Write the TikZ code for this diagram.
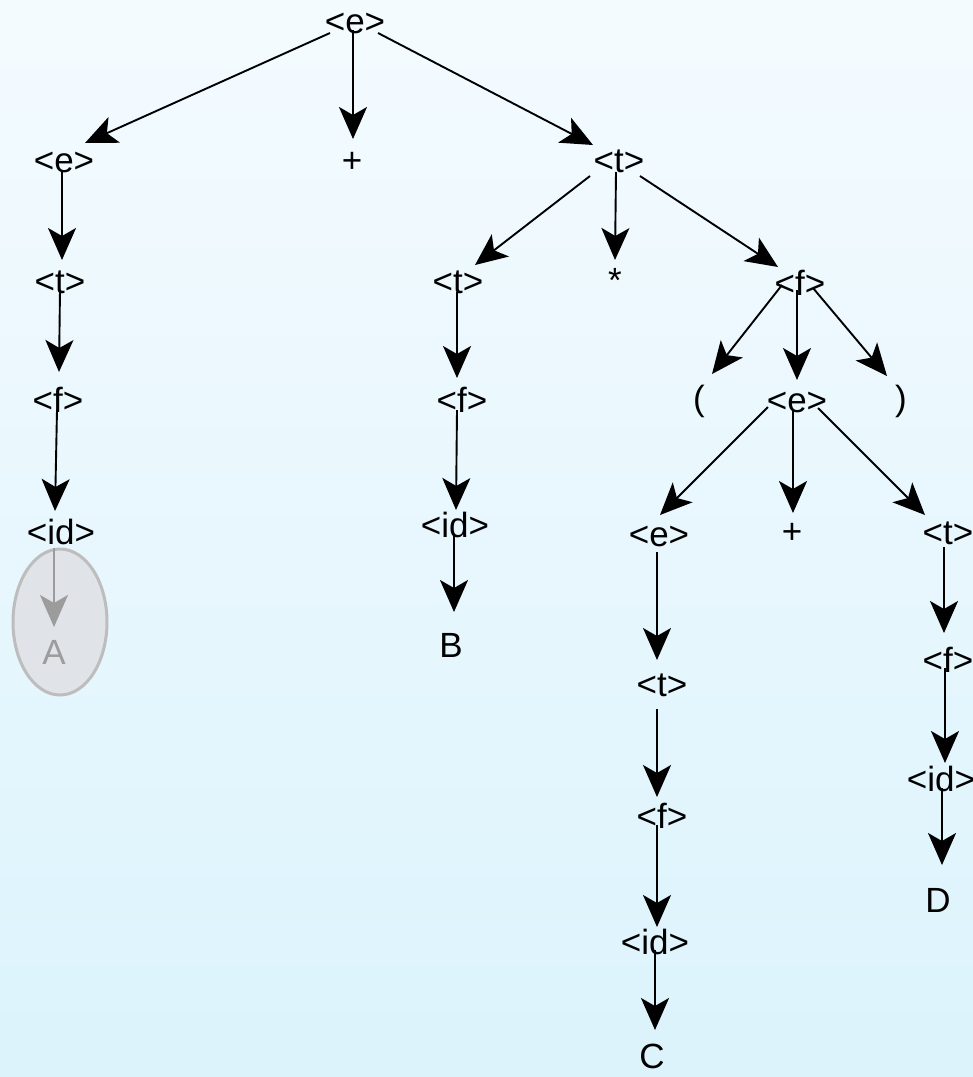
\documentclass[tikz,border=0pt]{standalone}
\usepackage{fontspec}
\setmainfont{Liberation Sans}
\usetikzlibrary{arrows.meta,calc,shapes.geometric}
\definecolor{bgtop}{HTML}{F4FBFF}
\definecolor{bgbot}{HTML}{DCF3FC}
\definecolor{ellfill}{HTML}{E0E3E8}
\definecolor{elldraw}{HTML}{BDBDBD}
\definecolor{greytxt}{HTML}{9C9C9C}
\begin{document}
\begin{tikzpicture}[x=1pt,y=-1pt,
  lbl/.style={font=\fontsize{35}{40}\selectfont, inner sep=0pt},
  arr/.style={line width=1.9pt, -{Stealth[length=32pt,width=28pt,inset=8pt]}},
  greyarr/.style={arr, draw=greytxt}]
\shade[top color=bgtop, bottom color=bgbot] (0,0) rectangle (973,1077);
\useasboundingbox (0,0) rectangle (973,1077);
% grey ellipse
\node[ellipse, draw=elldraw, line width=3pt, fill=ellfill, inner sep=0pt,
      minimum width=94pt, minimum height=146pt] (ell) at (60,622) {};
% nodes
\node[lbl] (r) at (355,23) {<e>};
\node[lbl] (a1) at (64,162) {<e>};
\node[lbl] (p1) at (352,162) {+};
\node[lbl] (t1) at (619,161) {<t>};
\node[lbl] (a2) at (60,282) {<t>};
\node[lbl] (a3) at (58,400) {<f>};
\node[lbl] (a4) at (61,532) {<id>};
\node[lbl, text=greytxt] (A) at (54,652) {A};
\node[lbl] (b1) at (458,282) {<t>};
\node[lbl] (star) at (615,280) {*};
\node[lbl] (c) at (800,283) {<f>};
\node[lbl] (b2) at (462,400) {<f>};
\node[lbl] (b3) at (455,525) {<id>};
\node[lbl] (B) at (451,645) {B};
\node[lbl] (lp) at (699,401) {(};
\node[lbl] (e2) at (797,402) {<e>};
\node[lbl] (rp) at (901,401) {)};
\node[lbl] (e3) at (659,536) {<e>};
\node[lbl] (p2) at (792,533) {+};
\node[lbl] (t2) at (948,533) {<t>};
\node[lbl] (d1) at (662,685) {<t>};
\node[lbl] (d2) at (662,816) {<f>};
\node[lbl] (d3) at (655,942) {<id>};
\node[lbl] (C) at (652,1056) {C};
\node[lbl] (f1) at (948,660) {<f>};
\node[lbl] (f2) at (941,779) {<id>};
\node[lbl] (D) at (938,900) {D};
% edges
\draw[arr] ($(r)+(-25,10)$) -- ($(a1)+(21,-19)$);
\draw[arr] ($(r)+(-2,7)$) -- ($(p1)+(1,-23)$);
\draw[arr] ($(r)+(23,10)$) -- ($(t1)+(-26,-16)$);
\draw[arr] ($(a1)+(-2,10)$) -- ($(a2)+(2,-22)$);
\draw[arr] ($(a2)+(0,8)$) -- ($(a3)+(1,-28)$);
\draw[arr] ($(a3)+(-1,10)$) -- ($(a4)+(-6,-21)$);
\draw[greyarr] ($(a4)+(-7,16)$) -- ($(A)+(0,-25)$);
\draw[arr] ($(t1)+(-29,15)$) -- ($(b1)+(17,-17)$);
\draw[arr] ($(t1)+(-3,11)$) -- ($(star)+(0,-20)$);
\draw[arr] ($(t1)+(21,15)$) -- ($(c)+(-22,-16)$);
\draw[arr] ($(b1)+(-1,10)$) -- ($(b2)+(-5,-22)$);
\draw[arr] ($(b2)+(-5,10)$) -- ($(b3)+(1,-15)$);
\draw[arr] ($(b3)+(-1,10)$) -- ($(B)+(3,-33)$);
\draw[arr] ($(c)+(-18,2)$) -- ($(lp)+(13,-27)$);
\draw[arr] ($(c)+(-3,7)$) -- ($(e2)+(0,-22)$);
\draw[arr] ($(c)+(13,5)$) -- ($(rp)+(-14,-25)$);
\draw[arr] ($(e2)+(-29,5)$) -- ($(e3)+(1,-21)$);
\draw[arr] ($(e2)+(-4,8)$) -- ($(p2)+(1,-20)$);
\draw[arr] ($(e2)+(21,6)$) -- ($(t2)+(-23,-18)$);
\draw[arr] ($(e3)+(-2,16)$) -- ($(d1)+(-5,-25)$);
\draw[arr] ($(d1)+(-5,24)$) -- ($(d2)+(-5,-19)$);
\draw[arr] ($(d2)+(-5,9)$) -- ($(d3)+(2,-15)$);
\draw[arr] ($(d3)+(0,8)$) -- ($(C)+(3,-26)$);
\draw[arr] ($(t2)+(-4,14)$) -- ($(f1)+(-4,-27)$);
\draw[arr] ($(f1)+(-3,8)$) -- ($(f2)+(4,-16)$);
\draw[arr] ($(f2)+(1,9)$) -- ($(D)+(4,-35)$);
\end{tikzpicture}
\end{document}
